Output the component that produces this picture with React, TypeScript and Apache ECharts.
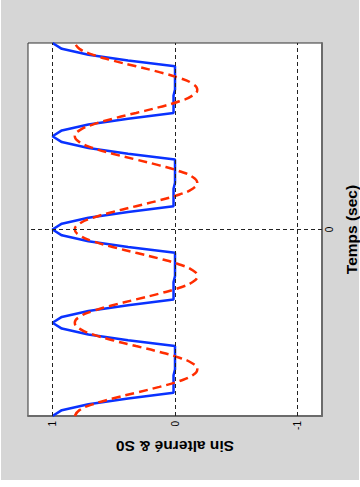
import React, { useEffect, useRef } from "react";
import * as echarts from "echarts";

// time (sec), increasing upward
const timeSec = [
  -2, -1.9375, -1.875, -1.8125, -1.75, -1.6875, -1.625, -1.5625, -1.5, -1.4375, -1.375, -1.3125, -1.25, -1.1875, -1.125, -1.0625,
  -1, -0.9375, -0.875, -0.8125, -0.75, -0.6875, -0.625, -0.5625, -0.5, -0.4375, -0.375, -0.3125, -0.25, -0.1875, -0.125, -0.0625,
  0, 0.0625, 0.125, 0.1875, 0.25, 0.3125, 0.375, 0.4375, 0.5, 0.5625, 0.625, 0.6875, 0.75, 0.8125, 0.875, 0.9375,
  1, 1.0625, 1.125, 1.1875, 1.25, 1.3125, 1.375, 1.4375, 1.5, 1.5625, 1.625, 1.6875, 1.75, 1.8125, 1.875, 1.9375,
  2,
];

// "Sin alterné" (blue, solid)
const sinAlterne = [
  1, 0.924, 0.707, 0.383, 0.012, 0.012, 0.012, 0.012, 0, 0, 0, 0, 0, 0.383, 0.707, 0.924,
  1, 0.924, 0.707, 0.383, 0.012, 0.012, 0.012, 0.012, 0, 0, 0, 0, 0, 0.383, 0.707, 0.924,
  1, 0.924, 0.707, 0.383, 0.012, 0.012, 0.012, 0.012, 0, 0, 0, 0, 0, 0.383, 0.707, 0.924,
  1, 0.924, 0.707, 0.383, 0.012, 0.012, 0.012, 0.012, 0, 0, 0, 0, 0, 0.383, 0.707, 0.924,
  1,
];

// "S0" (red, dashed)
const s0 = [
  0.818, 0.78, 0.672, 0.509, 0.318, 0.127, -0.036, -0.144, -0.182, -0.144, -0.036, 0.127, 0.318, 0.509, 0.672, 0.78,
  0.818, 0.78, 0.672, 0.509, 0.318, 0.127, -0.036, -0.144, -0.182, -0.144, -0.036, 0.127, 0.318, 0.509, 0.672, 0.78,
  0.818, 0.78, 0.672, 0.509, 0.318, 0.127, -0.036, -0.144, -0.182, -0.144, -0.036, 0.127, 0.318, 0.509, 0.672, 0.78,
  0.818, 0.78, 0.672, 0.509, 0.318, 0.127, -0.036, -0.144, -0.182, -0.144, -0.036, 0.127, 0.318, 0.509, 0.672, 0.78,
  0.818,
];

const valueTicks = [1, 0, -1];
const timeTicks = [0];

const FONT = "'Liberation Sans', Arial, sans-serif";

export default function App() {
  const ref = useRef<HTMLDivElement>(null);

  useEffect(() => {
    document.body.style.margin = "0";
    if (!ref.current) return;
    const chart = echarts.init(ref.current, undefined, { renderer: "svg" });

    const isTick = (v: number, list: number[]) => list.some((t) => Math.abs(t - v) < 1e-6);

    chart.setOption({
      animation: false,
      backgroundColor: "transparent",
      grid: {
        left: 28,
        right: 38,
        top: 43,
        bottom: 71,
        show: true,
        backgroundColor: "#ffffff",
        borderColor: "#333333",
        borderWidth: 1,
        containLabel: false,
        outerBoundsMode: "none",
      },
      xAxis: {
        type: "value",
        min: -1.2,
        max: 1.2,
        interval: 0.2,
        inverse: true,
        position: "bottom",
        axisLine: { show: true, onZero: false, lineStyle: { color: "#6b6b6b", width: 2 } },
        axisTick: { show: false },
        splitLine: { show: false },
        axisLabel: {
          rotate: 90,
          margin: 5,
          fontSize: 10,
          color: "#000",
          fontFamily: FONT,
          formatter: (v: number) => (isTick(v, valueTicks) ? String(Math.round(v)) : ""),
        },
        name: "Sin alterné & S0",
        nameLocation: "middle",
        nameRotate: 180,
        nameGap: 22,
        nameTextStyle: { fontSize: 15.5, fontWeight: "bold", color: "#000", fontFamily: FONT },
      },
      yAxis: {
        type: "value",
        min: -2,
        max: 2,
        interval: 2,
        position: "right",
        axisLine: { show: true, onZero: false, lineStyle: { color: "#6b6b6b", width: 2 } },
        axisTick: { show: false },
        splitLine: { show: false },
        axisLabel: {
          rotate: 90,
          margin: 2,
          fontSize: 10,
          color: "#000",
          fontFamily: FONT,
          formatter: (v: number) => (isTick(v, timeTicks) ? String(Math.round(v)) : ""),
        },
        name: "Temps (sec)",
        nameLocation: "middle",
        nameRotate: 90,
        nameGap: 21,
        nameTextStyle: { fontSize: 15.5, fontWeight: "bold", color: "#000", fontFamily: FONT },
      },
      series: [
        {
          type: "line",
          data: [],
          z: 1,
          silent: true,
          markLine: {
            silent: true,
            symbol: ["none", "none"],
            label: { show: false },
            emphasis: { disabled: true },
            lineStyle: { color: "#222", type: [4, 3], width: 1 },
            data: [
              ...valueTicks.map((v) => ({ xAxis: v })),
              ...timeTicks.map((t) => ({ yAxis: t })),
            ],
          },
        },
        {
          name: "Sin alterné",
          type: "line",
          z: 3,
          showSymbol: false,
          symbol: "none",
          data: timeSec.map((t, i) => [sinAlterne[i], t]),
          lineStyle: { color: "#0a32ff", width: 2.5 },
        },
        {
          name: "S0",
          type: "line",
          z: 4,
          showSymbol: false,
          symbol: "none",
          smooth: true,
          data: timeSec.map((t, i) => [s0[i], t]),
          lineStyle: { color: "#ff2d00", width: 2.5, type: [9, 5] },
        },
      ],
    });

    return () => chart.dispose();
  }, []);

  return (
    <div style={{ position: "relative", width: 360, height: 487, background: "#ffffff" }}>
      <div
        style={{ position: "absolute", left: 1, top: 0, width: 358, height: 480, background: "#d6d6d6" }}
      />
      <div ref={ref} style={{ position: "absolute", left: 0, top: 0, width: 360, height: 487 }} />
    </div>
  );
}
